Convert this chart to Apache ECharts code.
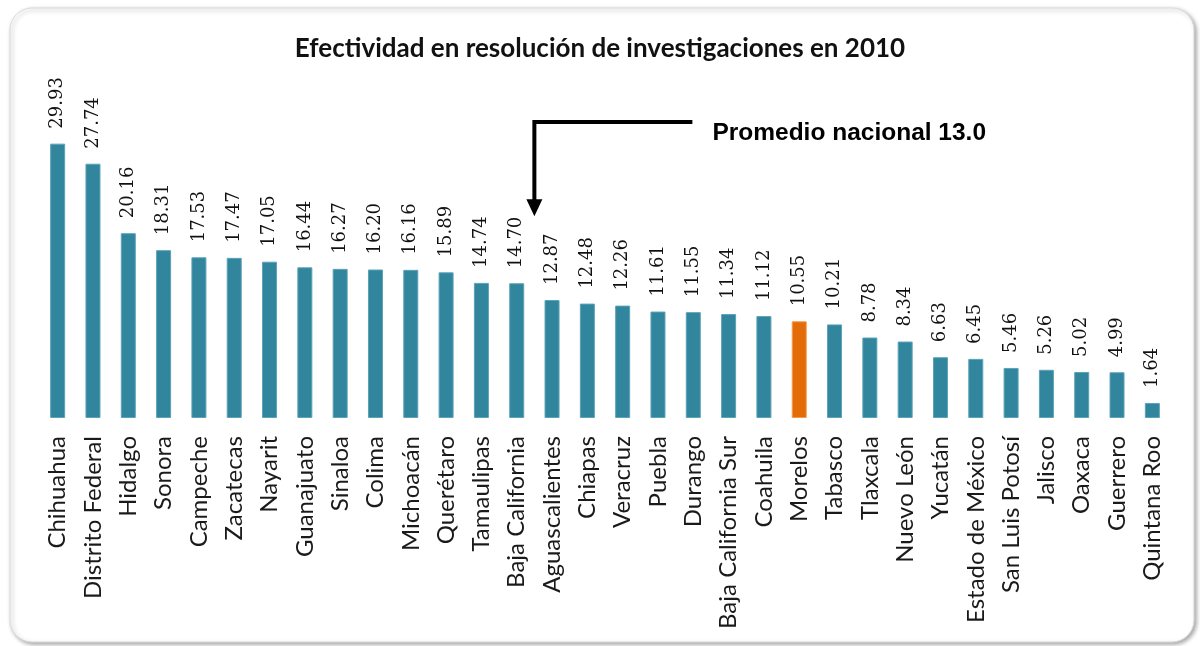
<!DOCTYPE html>
<html><head><meta charset="utf-8">
<script src="https://cdn.jsdelivr.net/npm/echarts@6/dist/echarts.min.js"></script>
<style>html,body{margin:0;padding:0;background:#fff}#c{width:1200px;height:646px}</style>
</head><body><div id="c"></div>
<script>
const states = ["Chihuahua","Distrito Federal","Hidalgo","Sonora","Campeche","Zacatecas","Nayarit","Guanajuato","Sinaloa","Colima","Michoacán","Querétaro","Tamaulipas","Baja California","Aguascalientes","Chiapas","Veracruz","Puebla","Durango","Baja California Sur","Coahuila","Morelos","Tabasco","Tlaxcala","Nuevo León","Yucatán","Estado de México","San Luis Potosí","Jalisco","Oaxaca","Guerrero","Quintana Roo"];
const values = [29.93,27.74,20.16,18.31,17.53,17.47,17.05,16.44,16.27,16.20,16.16,15.89,14.74,14.70,12.87,12.48,12.26,11.61,11.55,11.34,11.12,10.55,10.21,8.78,8.34,6.63,6.45,5.46,5.26,5.02,4.99,1.64];
const highlight = "Morelos";
const nationalAvg = 13.0;
const titleText = "Efectividad en resolución de investigaciones en 2010";
const annotationText = "Promedio nacional 13.0";

const chart = echarts.init(document.getElementById('c'), null, {renderer:'canvas'});
const teal = '#31859C', orange = '#E36C09';
const option = {
  animation:false,
  backgroundColor:'#fff',
  title:{text:titleText,left:'center',top:31,textStyle:{fontFamily:'Lato',fontWeight:'bold',fontSize:26,color:'#111'}},
  grid:{left:40,right:30,top:143,bottom:228,containLabel:false},
  xAxis:{type:'category',data:states,axisLine:{show:false},axisTick:{show:false},
    axisLabel:{rotate:90,interval:0,margin:18,fontFamily:'Lato',fontSize:24,color:'#1a1a1a'}},
  yAxis:{type:'value',min:0,max:30,show:false,splitLine:{show:false}},
  series:[{type:'bar',barWidth:15,
    data:values.map((v,i)=>({value:v,itemStyle:{color:states[i]===highlight?orange:teal,borderColor:states[i]===highlight?'#F59A4C':'#5BA3B8',borderWidth:1}})),
    label:{show:true,position:'top',rotate:90,align:'left',verticalAlign:'middle',distance:15,
      formatter:p=>p.value.toFixed(2),fontFamily:'DejaVu Serif',fontSize:18,color:'#111'}}]
};
chart.setOption(option);

// annotation arrow placed between the bars around the national average
let idx = values.findIndex(v=>v<nationalAvg);
const x1 = chart.convertToPixel({xAxisIndex:0},idx-1);
const x2 = chart.convertToPixel({xAxisIndex:0},idx);
const ax = (x1+x2)/2;
const tipY = chart.convertToPixel({yAxisIndex:0},22);
const topY = chart.convertToPixel({yAxisIndex:0},32.3);
chart.setOption({graphic:[
  {type:'rect',z:-10,shape:{x:10,y:8,width:1184,height:634,r:22},style:{fill:'#fff',stroke:'#dcdcdc',lineWidth:1,shadowBlur:4,shadowOffsetX:2,shadowOffsetY:2,shadowColor:'rgba(0,0,0,0.35)'}},
  {type:'polyline',shape:{points:[[ax+158,topY],[ax,topY],[ax,tipY-16]]},style:{stroke:'#000',lineWidth:4,fill:null}},
  {type:'polygon',shape:{points:[[ax-8,tipY-17],[ax+8,tipY-17],[ax,tipY]]},style:{fill:'#000'}},
  {type:'text',x:ax+178,y:topY+11,style:{text:annotationText,fontFamily:'Liberation Sans',fontWeight:'bold',fontSize:24.5,fill:'#000',verticalAlign:'middle'}}
]});
</script></body></html>
